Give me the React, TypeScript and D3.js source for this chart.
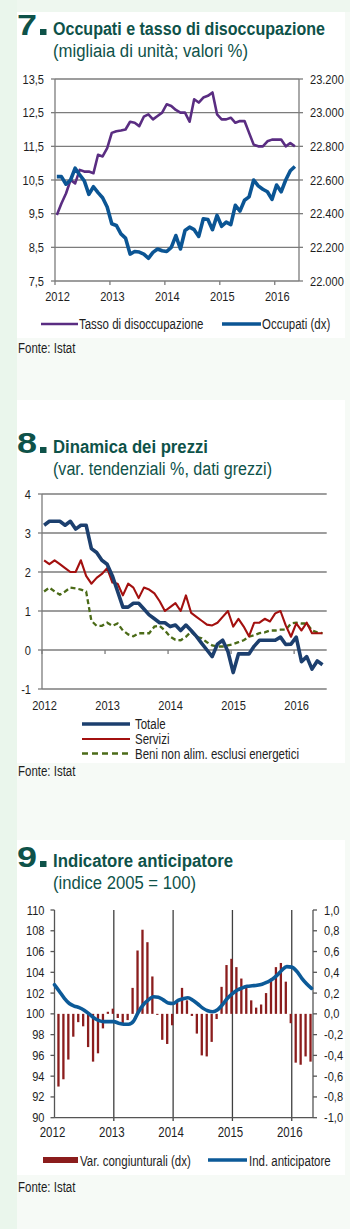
import React from 'react';
import * as d3 from 'd3';

// ---------- DATA ----------
const YEARS = ['2012', '2013', '2014', '2015', '2016'];

// Chart 7: monthly Jan 2012 - May 2016
const UNEMPLOYMENT = [
  9.46, 9.8, 10.1, 10.5, 10.4, 10.8, 10.75, 10.75, 10.7, 11.25, 11.2, 11.45,
  11.9, 11.95, 11.97, 12.0, 12.23, 12.2, 12.1, 12.38, 12.45, 12.3, 12.4, 12.5,
  12.75, 12.7, 12.58, 12.5, 12.5, 12.23, 12.9, 12.8, 12.95, 13.0, 13.1, 12.45,
  12.3, 12.3, 12.35, 12.2, 12.25, 12.25, 11.9, 11.55, 11.5, 11.5, 11.65, 11.7,
  11.7, 11.7, 11.5, 11.6, 11.5,
];
const EMPLOYED = [
  22620, 22620, 22575, 22600, 22670, 22630, 22595, 22515, 22560, 22525, 22495, 22440,
  22340, 22330, 22280, 22255, 22160, 22175, 22172, 22160, 22135, 22170, 22190, 22180,
  22175, 22200, 22270, 22190, 22300, 22320, 22305, 22265, 22370, 22365, 22305, 22390,
  22325, 22350, 22335, 22450, 22415, 22480, 22500, 22600, 22565, 22545, 22530, 22485,
  22570, 22530, 22600, 22655, 22680,
];
const C7_LEFT_TICKS = [7.5, 8.5, 9.5, 10.5, 11.5, 12.5, 13.5];
const C7_RIGHT_TICKS = [22000, 22200, 22400, 22600, 22800, 23000, 23200];

// Chart 8: monthly Jan 2012 - Jun 2016
const TOTALE = [
  3.2, 3.3, 3.3, 3.3, 3.2, 3.3, 3.1, 3.2, 3.2, 2.6, 2.5, 2.3,
  2.2, 1.9, 1.5, 1.1, 1.1, 1.2, 1.2, 1.05, 0.9, 0.8, 0.7, 0.7,
  0.6, 0.64, 0.5, 0.64, 0.5, 0.35, 0.17, 0.0, -0.17, 0.15, 0.25, -0.04,
  -0.58, -0.1, -0.1, -0.1, 0.1, 0.25, 0.25, 0.25, 0.25, 0.33, 0.14, 0.15,
  0.33, -0.3, -0.17, -0.49, -0.28, -0.38,
];
const SERVIZI = [
  2.3, 2.2, 2.3, 2.2, 2.1, 2.0, 2.0, 2.3, 1.9, 1.7, 1.85, 1.95,
  2.1, 1.73, 1.7, 1.4, 1.7, 1.6, 1.33, 1.6, 1.55, 1.45, 1.25, 1.0,
  1.1, 1.2, 1.0, 1.4, 0.95, 0.85, 0.75, 0.65, 0.63, 0.7, 0.85, 1.0,
  0.6, 0.8, 0.6, 0.35, 0.7, 0.7, 0.8, 0.73, 0.94, 1.0, 0.63, 0.34,
  0.68, 0.5, 0.7, 0.43, 0.43, 0.43,
];
const BENI = [
  1.5, 1.6, 1.5, 1.42, 1.5, 1.6, 1.58, 1.55, 1.5, 0.75, 0.62, 0.62,
  0.7, 0.62, 0.68, 0.5, 0.4, 0.35, 0.43, 0.43, 0.43, 0.6, 0.62, 0.5,
  0.34, 0.26, 0.25, 0.34, 0.47, 0.34, 0.3, 0.2, 0.12, 0.09, 0.09, 0.12,
  0.15, 0.2, 0.25, 0.34, 0.38, 0.43, 0.45, 0.5, 0.5, 0.52, 0.52, 0.68,
  0.7, 0.68, 0.68, 0.5, 0.45, 0.43,
];
const C8_TICKS = [-1, 0, 1, 2, 3, 4];

// Chart 9: monthly Jan 2012 - May 2016
const VAR_CONG = [
  -0.7, -0.63, -0.44, -0.22, -0.08, -0.12, -0.32, -0.46, -0.38, -0.14, 0.02, 0.05,
  -0.04, -0.1, -0.06, 0.25, 0.61, 0.81, 0.69, 0.36, -0.01, -0.25, -0.29, -0.11,
  0.12, 0.25, 0.13, -0.02, -0.19, -0.4, -0.41, -0.27, -0.05, 0.26, 0.47, 0.53,
  0.45, 0.34, 0.25, 0.13, 0.06, 0.09, 0.2, 0.34, 0.45, 0.49, 0.31, -0.09,
  -0.47, -0.49, -0.41, -0.46,
];
const IND_ANT = [
  102.8, 102.15, 101.5, 101.0, 100.75, 100.6, 100.35, 100.0, 99.6, 99.35, 99.25, 99.25,
  99.25, 99.1, 99.0, 99.0, 99.3, 100.2, 100.9, 101.35, 101.65, 101.6, 101.35, 101.05,
  101.0, 101.3, 101.45, 101.55, 101.3, 100.95, 100.55, 100.3, 100.2, 100.4, 100.9, 101.5,
  101.95, 102.3, 102.5, 102.65, 102.7, 102.75, 102.85, 103.05, 103.3, 103.7, 104.2, 104.55,
  104.5, 104.1, 103.45, 102.9, 102.45,
];
const C9_LEFT_TICKS = [90, 92, 94, 96, 98, 100, 102, 104, 106, 108, 110];
const C9_RIGHT_TICKS = [-1, -0.8, -0.6, -0.4, -0.2, 0, 0.2, 0.4, 0.6, 0.8, 1];

// ---------- STYLE ----------
const FONT = "'Liberation Sans',Arial,sans-serif";
const TEAL = '#0e5249';
const GRID = '#7c7c7c';
const TXT = '#1e1e1e';
const NARROW = 0.82;

const it = d3.formatLocale({ decimal: ',', thousands: '.', grouping: [3], currency: ['', '€'], minus: '-' });
const f1 = it.format('.1f');
const fK = it.format(',.0f');
const f0 = it.format('d');

// condensed text (Arial-Narrow look) built from Liberation Sans scaled horizontally
function NT({ x, y, anchor = 'start', size = 13.5, fill = TXT, weight = 'normal', children }) {
  return (
    <text
      transform={`translate(${x},${y}) scale(${NARROW},1)`}
      textAnchor={anchor}
      fontFamily={FONT}
      fontSize={size}
      fontWeight={weight}
      fill={fill}
    >
      {children}
    </text>
  );
}

function Header({ y, num, title, sub, tLen, sLen }) {
  return (
    <g>
      <text x={17} y={y} fontFamily={FONT} fontWeight="bold" fontSize={30} fill={TEAL} textLength={20} lengthAdjust="spacingAndGlyphs">{num}</text>
      <rect x={40} y={y - 6} width={6.5} height={6} fill={TEAL} />
      <text x={53} y={y} fontFamily={FONT} fontWeight="bold" fontSize={17.5} fill={TEAL} textLength={tLen} lengthAdjust="spacingAndGlyphs">{title}</text>
      <text x={53} y={y + 22} fontFamily={FONT} fontSize={18} fill={TEAL} textLength={sLen} lengthAdjust="spacingAndGlyphs">{sub}</text>
    </g>
  );
}

function Chart7() {
  const x = d3.scaleLinear().domain([0, 53.3]).range([55, 299]);
  const yL = d3.scaleLinear().domain([7.5, 13.5]).range([281, 79]);
  const yR = d3.scaleLinear().domain([22000, 23200]).range([281, 79]);
  const lineL = d3.line<number>().x((_, i) => x(i + 0.4)).y((d) => yL(d));
  const lineR = d3.line<number>().x((_, i) => x(i + 0.4)).y((d) => yR(d));
  const [x0, x1] = x.range();
  return (
    <g>
      {C7_LEFT_TICKS.map((t) => (
        <g key={t}>
          <line x1={x0} x2={x1} y1={yL(t)} y2={yL(t)} stroke={GRID} strokeWidth={1.3} />
          <line x1={x0 - 4} x2={x0} y1={yL(t)} y2={yL(t)} stroke={GRID} strokeWidth={1.3} />
          <NT x={x0 - 11} y={yL(t) + 4.5} anchor="end">{f1(t)}</NT>
        </g>
      ))}
      {C7_RIGHT_TICKS.map((t) => (
        <g key={t}>
          <line x1={x1} x2={x1 + 4} y1={yR(t)} y2={yR(t)} stroke={GRID} strokeWidth={1.3} />
          <NT x={x1 + 11} y={yR(t) + 4.5}>{fK(t)}</NT>
        </g>
      ))}
      <line x1={x0} x2={x0} y1={79} y2={281} stroke={GRID} strokeWidth={1.3} />
      <line x1={x1} x2={x1} y1={79} y2={281} stroke={GRID} strokeWidth={1.3} />
      {YEARS.map((yr, k) => (
        <g key={yr}>
          <line x1={x(k * 12)} x2={x(k * 12)} y1={281} y2={285} stroke={GRID} strokeWidth={1.3} />
          <NT x={x(k * 12) + 2.5} y={301} anchor="middle">{yr}</NT>
        </g>
      ))}
      <path d={lineL(UNEMPLOYMENT) || ''} fill="none" stroke="#5a2d82" strokeWidth={2.6} strokeLinejoin="round" />
      <path d={lineR(EMPLOYED) || ''} fill="none" stroke="#0b5594" strokeWidth={3.6} strokeLinejoin="round" />
      {/* legend */}
      <line x1={41} x2={78} y1={324} y2={324} stroke="#5a2d82" strokeWidth={2.6} />
      <NT x={79} y={329} size={14}>Tasso di disoccupazione</NT>
      <line x1={222} x2={261} y1={324} y2={324} stroke="#0b5594" strokeWidth={3.6} />
      <NT x={262} y={329} size={14}>Occupati (dx)</NT>
    </g>
  );
}

function Chart8() {
  const x = d3.scaleLinear().domain([0, 54.2]).range([42, 326.7]);
  const y = d3.scaleLinear().domain([-1, 4]).range([689, 494]);
  const line = d3.line<number>().x((_, i) => x(i + 0.4)).y((d) => y(d));
  const [x0, x1] = x.range();
  return (
    <g>
      {C8_TICKS.map((t) => (
        <g key={t}>
          <line x1={x0} x2={x1} y1={y(t)} y2={y(t)} stroke={GRID} strokeWidth={1.3} />
          <line x1={x0 - 4} x2={x0} y1={y(t)} y2={y(t)} stroke={GRID} strokeWidth={1.3} />
          <NT x={x0 - 11} y={y(t) + 4.5} anchor="end">{f0(t)}</NT>
        </g>
      ))}
      <line x1={x0} x2={x0} y1={494} y2={689} stroke={GRID} strokeWidth={1.3} />
      {YEARS.map((yr, k) => (
        <g key={yr}>
          <line x1={x(k * 12)} x2={x(k * 12)} y1={y(0)} y2={y(0) + 4} stroke={GRID} strokeWidth={1.3} />
          <NT x={x(k * 12) + 2.5} y={710} anchor="middle">{yr}</NT>
        </g>
      ))}
      <path d={line(BENI) || ''} fill="none" stroke="#4b6b18" strokeWidth={2.3} strokeDasharray="5,3" />
      <path d={line(SERVIZI) || ''} fill="none" stroke="#a3100f" strokeWidth={2.1} strokeLinejoin="round" />
      <path d={line(TOTALE) || ''} fill="none" stroke="#1c3f6e" strokeWidth={3.6} strokeLinejoin="round" />
      {/* legend */}
      <line x1={82} x2={130} y1={724} y2={724} stroke="#1c3f6e" strokeWidth={3.6} />
      <NT x={135} y={729} size={14}>Totale</NT>
      <line x1={82} x2={130} y1={739} y2={739} stroke="#a3100f" strokeWidth={2.1} />
      <NT x={135} y={744} size={14}>Servizi</NT>
      <line x1={82} x2={130} y1={753.5} y2={753.5} stroke="#4b6b18" strokeWidth={2.3} strokeDasharray="6,4" />
      <NT x={135} y={758.5} size={14}>Beni non alim. esclusi energetici</NT>
    </g>
  );
}

function Chart9() {
  const x = d3.scaleLinear().domain([0, 52.3]).range([54.5, 313]);
  const yL = d3.scaleLinear().domain([90, 110]).range([1117.7, 910]);
  const yR = d3.scaleLinear().domain([-1, 1]).range([1117.7, 910]);
  const line = d3.line<number>().x((_, i) => x(i)).y((d) => yL(d)).curve(d3.curveMonotoneX);
  const [x0, x1] = x.range();
  const bw = 2.3;
  return (
    <g>
      {YEARS.slice(1).map((yr, k) => (
        <line key={yr} x1={x((k + 1) * 12)} x2={x((k + 1) * 12)} y1={910} y2={1121} stroke="#3f3f3f" strokeWidth={1.3} />
      ))}
      <line x1={x0} x2={x0} y1={910} y2={1117.7} stroke="#555" strokeWidth={1.3} />
      <line x1={x1} x2={x1} y1={910} y2={1117.7} stroke="#555" strokeWidth={1.3} />
      <line x1={x0} x2={x1} y1={1117.7} y2={1117.7} stroke="#555" strokeWidth={1.3} />
      {C9_LEFT_TICKS.map((t) => (
        <g key={t}>
          <line x1={x0 - 4} x2={x0} y1={yL(t)} y2={yL(t)} stroke="#555" strokeWidth={1.3} />
          <NT x={x0 - 10} y={yL(t) + 4.5} anchor="end">{f0(t)}</NT>
        </g>
      ))}
      {C9_RIGHT_TICKS.map((t) => (
        <g key={t}>
          <line x1={x1} x2={x1 + 4} y1={yR(t)} y2={yR(t)} stroke="#555" strokeWidth={1.3} />
          <NT x={x1 + 11} y={yR(t) + 4.5}>{f1(t)}</NT>
        </g>
      ))}
      {YEARS.map((yr, k) => (
        <NT key={yr} x={x(k * 12) - 2} y={1137} anchor="middle" size={14}>{yr}</NT>
      ))}
      {VAR_CONG.map((v, i) => (
        <rect key={i} x={x(i + 0.8) - bw / 2} width={bw} y={Math.min(yR(v), yR(0))} height={Math.max(1, Math.abs(yR(v) - yR(0)))} fill="#8b1d1d" />
      ))}
      <path d={line(IND_ANT) || ''} fill="none" stroke="#0c5a98" strokeWidth={3.6} strokeLinecap="round" />
      {/* legend */}
      <rect x={43} y={1157} width={35} height={6} fill="#8b1d1d" />
      <NT x={80} y={1165.5} size={14}>Var. congiunturali (dx)</NT>
      <line x1={208} x2={247} y1={1160} y2={1160} stroke="#0c5a98" strokeWidth={3.6} />
      <NT x={249} y={1165.5} size={14}>Ind. anticipatore</NT>
    </g>
  );
}

export default function App() {
  const W = 350;
  const H = 1229;
  return (
    <div style={{ position: 'absolute', left: 0, top: 0, width: W, height: H }}>
      <svg width={W} height={H} viewBox={`0 0 ${W} ${H}`} style={{ display: 'block' }}>
        <rect x={0} y={0} width={W} height={H} fill="#f6faf6" />
        <rect x={0} y={0} width={17} height={H} fill="#eaf6ec" />
        <rect x={17} y={0} width={W - 17} height={12} fill="#eef7ef" />
        <rect x={17} y={12} width={328} height={326} fill="#ffffff" />
        <rect x={17} y={400} width={328} height={363} fill="#ffffff" />
        <rect x={17} y={840} width={328} height={335} fill="#ffffff" />

        <Header y={35} num="7" title="Occupati e tasso di disoccupazione" sub="(migliaia di unità; valori %)" tLen={272} sLen={195} />
        <Chart7 />
        <NT x={18} y={353} size={14}>Fonte: Istat</NT>

        <Header y={453} num="8" title="Dinamica dei prezzi" sub="(var. tendenziali %, dati grezzi)" tLen={155} sLen={219} />
        <Chart8 />
        <NT x={18} y={776} size={14}>Fonte: Istat</NT>

        <Header y={867} num="9" title="Indicatore anticipatore" sub="(indice 2005 = 100)" tLen={180} sLen={143} />
        <Chart9 />
        <NT x={18} y={1192} size={14}>Fonte: Istat</NT>
      </svg>
    </div>
  );
}
